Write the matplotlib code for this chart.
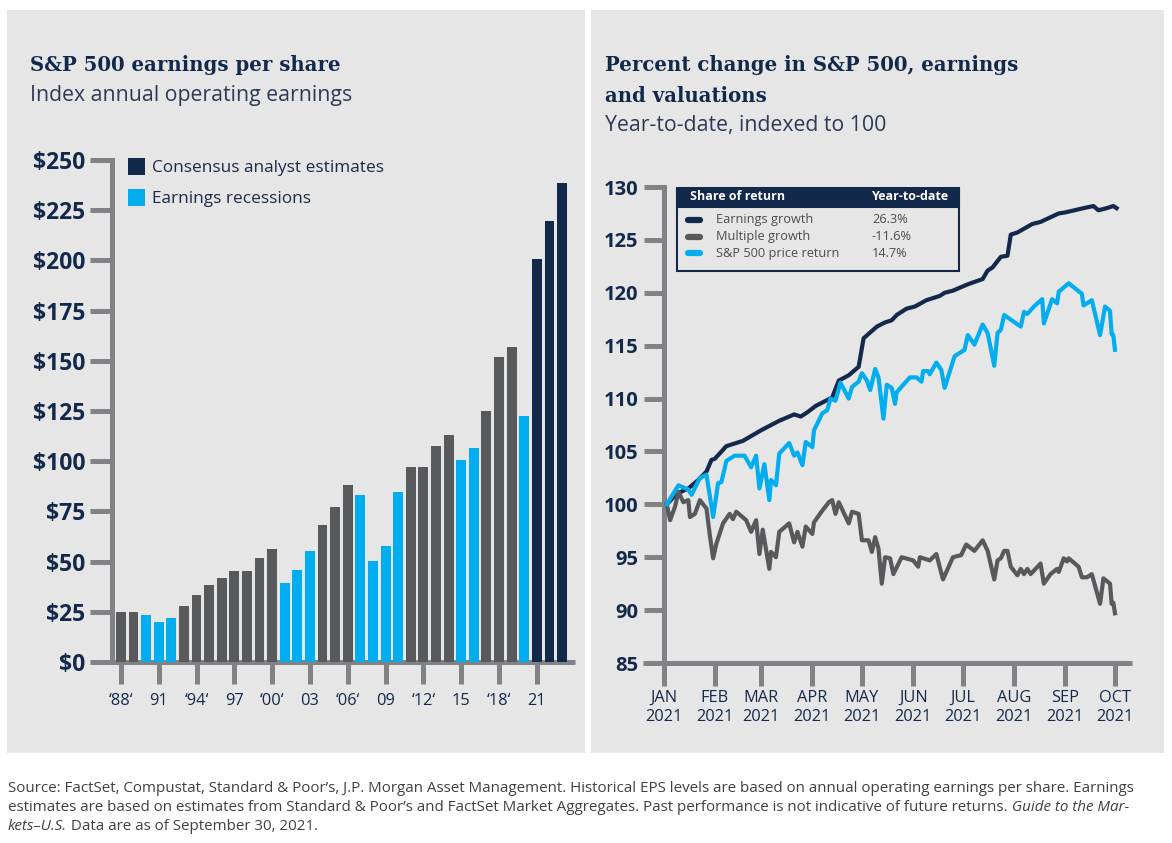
import matplotlib
matplotlib.use("Agg")
import matplotlib.pyplot as plt
import pandas as pd
from matplotlib.patches import Rectangle, Patch

plt.rcParams['font.family'] = ['Open Sans', 'DejaVu Sans']

NAVY = '#13294b'
GRAY = '#58595b'
BLUE = '#00aeef'
AXIS = '#808285'
PANEL = '#e6e6e6'
TXT = '#1b2a47'

# ---- left chart: annual operating EPS ----
years = list(range(1988, 2024))
eps = [24.7, 24.7, 23.4, 19.8, 21.8, 27.8, 33.3, 38.3, 41.8, 45.4, 45.4, 51.7,
       56.2, 39.3, 45.7, 55.3, 68.2, 77.1, 88.1, 83.2, 50.3, 57.7, 84.7, 97.1,
       97.1, 107.6, 113.1, 100.7, 106.7, 125.1, 152.1, 157.0, 122.7, 200.5,
       219.4, 238.3]
# g = history, r = earnings recession, e = consensus estimate
kinds = list('ggrrrggggggggrrrgggrrrrggggrrgggreee')
xtick_years = list(range(1988, 2022, 3))
xtick_labels = ['‘88‘', '91', '‘94‘', '97', '‘00‘', '03', '‘06‘', '09',
                '‘12‘', '15', '‘18‘', '21']

# ---- right chart: YTD, indexed to 100 ----
earn_dates = ['2021-01-03', '2021-01-09', '2021-01-16', '2021-01-22', '2021-01-27',
              '2021-01-30', '2021-02-01', '2021-02-08', '2021-02-18', '2021-03-01',
              '2021-03-12', '2021-03-21', '2021-03-25', '2021-03-29', '2021-04-03',
              '2021-04-13', '2021-04-17', '2021-04-23', '2021-04-29', '2021-05-02',
              '2021-05-10', '2021-05-15', '2021-05-19', '2021-05-22', '2021-05-28',
              '2021-06-02', '2021-06-09', '2021-06-17', '2021-06-20', '2021-06-25',
              '2021-07-04', '2021-07-13', '2021-07-16', '2021-07-19', '2021-07-24',
              '2021-07-28', '2021-07-30', '2021-08-03', '2021-08-12', '2021-08-17',
              '2021-08-28', '2021-09-01', '2021-09-12', '2021-09-18', '2021-09-21',
              '2021-09-26', '2021-09-30', '2021-10-02']
earn_vals = [100.0, 101.0, 101.5, 102.3, 103.1, 104.2, 104.3, 105.5, 106.0, 107.0,
             107.9, 108.5, 108.3, 108.7, 109.3, 110.1, 111.7, 112.2, 113.0, 115.7,
             116.8, 117.2, 117.4, 117.9, 118.5, 118.7, 119.3, 119.7, 120.0, 120.2,
             120.8, 121.3, 122.1, 122.4, 123.4, 123.5, 125.5, 125.7, 126.5, 126.7,
             127.5, 127.6, 128.0, 128.2, 127.8, 128.0, 128.2, 128.0]

price_dates = ['2021-01-03', '2021-01-10', '2021-01-16', '2021-01-18', '2021-01-23',
               '2021-01-27', '2021-01-31', '2021-02-03', '2021-02-05', '2021-02-08',
               '2021-02-13', '2021-02-19', '2021-02-23', '2021-02-26', '2021-02-28',
               '2021-03-03', '2021-03-06', '2021-03-07', '2021-03-10', '2021-03-12',
               '2021-03-18', '2021-03-21', '2021-03-23', '2021-03-26', '2021-03-28',
               '2021-04-01', '2021-04-02', '2021-04-07', '2021-04-10', '2021-04-12',
               '2021-04-15', '2021-04-18', '2021-04-23', '2021-04-25', '2021-04-29',
               '2021-05-01', '2021-05-04', '2021-05-06', '2021-05-09', '2021-05-11',
               '2021-05-14', '2021-05-16', '2021-05-19', '2021-05-21', '2021-05-22',
               '2021-05-30', '2021-06-03', '2021-06-06', '2021-06-07', '2021-06-10',
               '2021-06-11', '2021-06-15', '2021-06-18', '2021-06-20', '2021-06-26',
               '2021-07-02', '2021-07-04', '2021-07-08', '2021-07-13', '2021-07-16',
               '2021-07-20', '2021-07-22', '2021-07-24', '2021-07-26', '2021-08-05',
               '2021-08-07', '2021-08-09', '2021-08-13', '2021-08-18', '2021-08-19',
               '2021-08-24', '2021-08-27', '2021-08-28', '2021-09-03', '2021-09-11',
               '2021-09-12', '2021-09-17', '2021-09-22', '2021-09-25', '2021-09-28',
               '2021-09-29', '2021-09-30', '2021-10-01']
price_vals = [100.0, 101.8, 101.4, 100.9, 102.5, 102.8, 98.8, 102.0, 102.1, 104.1,
              104.6, 104.6, 103.5, 104.6, 101.5, 103.8, 100.4, 102.3, 101.8, 104.8,
              105.8, 104.6, 104.9, 103.7, 105.9, 105.4, 107.0, 108.6, 108.9, 110.0,
              109.8, 111.5, 110.0, 111.1, 111.6, 112.4, 111.7, 110.8, 112.8, 112.0,
              108.1, 111.3, 111.0, 109.5, 110.6, 112.0, 112.0, 111.6, 112.6, 112.6,
              112.3, 113.4, 112.7, 111.0, 114.0, 114.6, 116.0, 115.1, 117.0, 116.2,
              113.1, 116.2, 116.5, 117.9, 116.8, 118.2, 118.0, 118.7, 119.4, 117.1,
              119.4, 119.0, 120.1, 120.9, 119.9, 118.8, 119.3, 116.0, 118.7, 118.3,
              116.1, 116.0, 114.6]

mult_dates = ['2021-01-03', '2021-01-05', '2021-01-08', '2021-01-10', '2021-01-13',
              '2021-01-16', '2021-01-17', '2021-01-20', '2021-01-23', '2021-01-27',
              '2021-01-29', '2021-01-31', '2021-02-02', '2021-02-06', '2021-02-10',
              '2021-02-12', '2021-02-14', '2021-02-20', '2021-02-23', '2021-02-26',
              '2021-02-28', '2021-03-02', '2021-03-06', '2021-03-07', '2021-03-10',
              '2021-03-12', '2021-03-18', '2021-03-21', '2021-03-23', '2021-03-26',
              '2021-03-28', '2021-04-01', '2021-04-02', '2021-04-07', '2021-04-11',
              '2021-04-13', '2021-04-15', '2021-04-17', '2021-04-23', '2021-04-25',
              '2021-04-29', '2021-05-01', '2021-05-05', '2021-05-07', '2021-05-09',
              '2021-05-11', '2021-05-13', '2021-05-15', '2021-05-18', '2021-05-20',
              '2021-05-25', '2021-06-01', '2021-06-04', '2021-06-05', '2021-06-11',
              '2021-06-15', '2021-06-19', '2021-06-25', '2021-06-30', '2021-07-03',
              '2021-07-08', '2021-07-13', '2021-07-16', '2021-07-20', '2021-07-22',
              '2021-07-24', '2021-07-26', '2021-07-28', '2021-07-30', '2021-08-03',
              '2021-08-05', '2021-08-07', '2021-08-09', '2021-08-11', '2021-08-17',
              '2021-08-19', '2021-08-23', '2021-08-27', '2021-08-28', '2021-08-31',
              '2021-09-02', '2021-09-03', '2021-09-09', '2021-09-11', '2021-09-14',
              '2021-09-17', '2021-09-22', '2021-09-24', '2021-09-28', '2021-09-29',
              '2021-09-30', '2021-10-01']
mult_vals = [100.0, 98.5, 99.8, 101.2, 100.2, 100.4, 98.8, 99.1, 100.4, 99.6,
             97.1, 94.9, 96.3, 98.2, 99.1, 98.6, 99.3, 98.5, 97.4, 98.5,
             95.3, 97.6, 93.9, 95.5, 95.0, 97.4, 98.2, 96.4, 97.4, 96.0,
             97.9, 97.2, 98.3, 99.4, 100.2, 100.4, 99.1, 100.2, 98.2, 99.3,
             99.1, 96.6, 96.6, 95.5, 96.9, 95.8, 92.5, 95.0, 94.9, 93.4,
             95.0, 94.7, 94.1, 95.0, 94.7, 95.3, 92.9, 95.0, 95.2, 96.2,
             95.6, 96.6, 95.6, 92.9, 94.7, 94.9, 95.6, 95.6, 94.1, 93.3,
             93.9, 93.4, 93.9, 93.4, 94.4, 92.5, 93.4, 93.9, 93.6, 94.9,
             94.6, 94.9, 94.1, 93.1, 93.1, 93.4, 90.6, 93.0, 92.5, 90.6,
             90.7, 89.7]

legend_rows = ['Earnings growth', 'Multiple growth', 'S&P 500 price return']
legend_ytd = ['26.3%', '-11.6%', '14.7%']
months = pd.date_range('2021-01-01', '2021-10-01', freq='MS')

W, H = 1172, 843
fig = plt.figure(figsize=(W / 100, H / 100), dpi=100)
fig.patch.set_facecolor('white')


def fx(x):
    return x / W


def fy(y):
    return 1 - y / H


# grey panels
for x0, x1 in [(7, 585), (591, 1164)]:
    fig.patches.append(Rectangle((fx(x0), fy(753)), (x1 - x0) / W, (753 - 10) / H,
                                 transform=fig.transFigure, facecolor=PANEL,
                                 edgecolor='none', zorder=-10))

title_kw = dict(family='DejaVu Serif', fontweight='bold', fontsize=14.2, color=NAVY, va='center')
sub_kw = dict(fontsize=15.3, color='#2d3a55', va='center')
fig.text(fx(30), fy(65), 'S&P 500 earnings per share', **title_kw)
fig.text(fx(30), fy(96), 'Index annual operating earnings', **sub_kw)
fig.text(fx(605), fy(65), 'Percent change in S&P 500, earnings', **title_kw)
fig.text(fx(605), fy(96), 'and valuations', **title_kw)
fig.text(fx(605), fy(126), 'Year-to-date, indexed to 100', **sub_kw)

# ---------- left ----------
ax1 = fig.add_axes([fx(112), fy(662), (575 - 112) / W, (662 - 160) / H])
ax1.set_facecolor('none')
colors = {'g': GRAY, 'r': BLUE, 'e': NAVY}
ax1.bar(years, eps, width=0.78, color=[colors[k] for k in kinds], zorder=3)
ax1.set_xlim(1987.29, 2024.03)
ax1.set_ylim(0, 250)
ax1.set_yticks(range(0, 251, 25))
ax1.set_yticklabels(['$%d' % v for v in range(0, 251, 25)], fontweight='bold')
ax1.set_xticks(xtick_years)
ax1.set_xticklabels(xtick_labels)
for s in ['top', 'right', 'bottom']:
    ax1.spines[s].set_visible(False)
ax1.spines['left'].set_color(AXIS)
ax1.spines['left'].set_linewidth(3.6)
ax1.tick_params(axis='y', length=16, width=3.6, color=AXIS, pad=3,
                labelsize=16.5, labelcolor=NAVY)
ax1.tick_params(axis='x', length=16, width=3.6, color=AXIS, pad=6,
                labelsize=11.8, labelcolor=NAVY)
ax1.plot([-0.0454, 1], [0, 0], transform=ax1.get_yaxis_transform(), color=AXIS,
         lw=3.6, clip_on=False, solid_capstyle='butt', zorder=2)
handles = [Patch(facecolor=NAVY, label='Consensus analyst estimates'),
           Patch(facecolor=BLUE, label='Earnings recessions')]
ax1.legend(handles=handles, loc='upper left', bbox_to_anchor=(0.034, 1.004),
           frameon=False, fontsize=12.4, handlelength=1.0, handleheight=1.1,
           handletextpad=0.4, labelspacing=0.75, borderpad=0, borderaxespad=0,
           labelcolor=TXT)

# ---------- right ----------
ax2 = fig.add_axes([fx(663.5), fy(663), (1132 - 663.5) / W, (663 - 187) / H])
ax2.set_facecolor('none')
ax2.plot(pd.to_datetime(earn_dates), earn_vals, color=NAVY, lw=3.0, zorder=3,
         solid_joinstyle='round')
ax2.plot(pd.to_datetime(mult_dates), mult_vals, color=GRAY, lw=3.0, zorder=3,
         solid_joinstyle='round')
ax2.plot(pd.to_datetime(price_dates), price_vals, color=BLUE, lw=3.0, zorder=4,
         solid_joinstyle='round')
ax2.set_xlim(pd.Timestamp('2021-01-01'), pd.Timestamp('2021-01-01') + pd.Timedelta(days=283.3))
ax2.set_ylim(85, 130)
ax2.set_yticks(range(85, 131, 5))
ax2.set_yticklabels([str(v) for v in range(85, 131, 5)], fontweight='bold')
ax2.set_xticks(months)
ax2.set_xticklabels([m.strftime('%b').upper() + '\n2021' for m in months],
                    linespacing=1.25)
for s in ['top', 'right', 'bottom']:
    ax2.spines[s].set_visible(False)
ax2.spines['left'].set_color(AXIS)
ax2.spines['left'].set_linewidth(3.6)
ax2.tick_params(axis='y', length=14.5, width=3.6, color=AXIS, pad=3.5,
                labelsize=14.5, labelcolor=NAVY)
ax2.tick_params(axis='x', length=16.5, width=3.6, color=AXIS, pad=3,
                labelsize=11.8, labelcolor=NAVY)
ax2.plot([-0.0438, 1], [85, 85], transform=ax2.get_yaxis_transform(), color=AXIS,
         lw=3.6, clip_on=False, solid_capstyle='butt', zorder=2)

# legend table
bx0, bx1, by0, by1 = 0.0288, 0.6307, 0.8235, 1.0
ax2.add_patch(Rectangle((bx0, by0), bx1 - bx0, by1 - by0, transform=ax2.transAxes,
                        facecolor=PANEL, edgecolor=NAVY, lw=1.5, zorder=6))
ax2.add_patch(Rectangle((bx0, 0.958), bx1 - bx0, by1 - 0.958, transform=ax2.transAxes,
                        facecolor=NAVY, edgecolor=NAVY, lw=1.5, zorder=7))
ax2.text(0.0566, 0.979, 'Share of return', transform=ax2.transAxes, color='white',
         fontweight='bold', fontsize=9, va='center', zorder=8)
ax2.text(0.445, 0.979, 'Year-to-date', transform=ax2.transAxes, color='white',
         fontweight='bold', fontsize=9, va='center', zorder=8)
for yy, lab, val, c in zip([0.9307, 0.895, 0.861], legend_rows, legend_ytd,
                           [NAVY, GRAY, BLUE]):
    ax2.plot([0.0523, 0.0779], [yy, yy], transform=ax2.transAxes, color=c, lw=4.5,
             solid_capstyle='round', zorder=8)
    ax2.text(0.112, yy, lab, transform=ax2.transAxes, color='#4d4d4f', fontsize=9.2,
             va='center', zorder=8)
    ax2.text(0.445, yy, val, transform=ax2.transAxes, color='#4d4d4f', fontsize=9.2,
             va='center', zorder=8)

# ---------- footnote ----------
renderer = fig.canvas.get_renderer()
foot = [
    [('Source: FactSet, Compustat, Standard & Poor’s, J.P. Morgan Asset Management. '
      'Historical EPS levels are based on annual operating earnings per share. Earnings', 'normal')],
    [('estimates are based on estimates from Standard & Poor’s and FactSet Market Aggregates. '
      'Past performance is not indicative of future returns.', 'normal'),
     (' Guide to the Mar-', 'italic')],
    [('kets–U.S.', 'italic'), (' Data are as of September 30, 2021.', 'normal')],
]
for i, segs in enumerate(foot):
    x = fx(8)
    y = fy(789 + i * 18.5)
    for s, st in segs:
        t = fig.text(x, y, s, fontsize=10.9, style=st, color='#404040', va='center')
        x += t.get_window_extent(renderer).width / W

fig.savefig('out.png', dpi=100)
